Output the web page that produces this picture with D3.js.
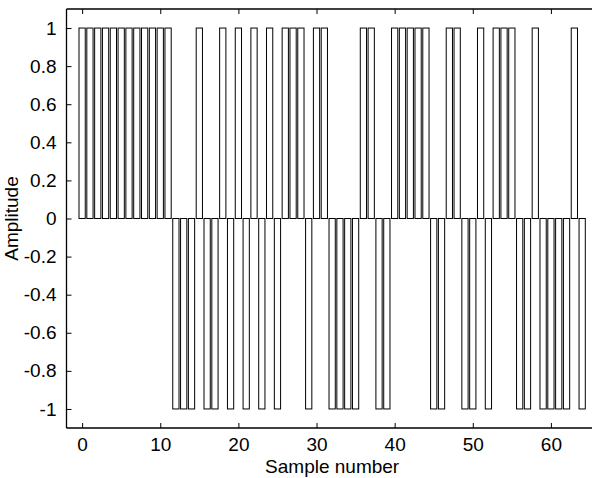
<!DOCTYPE html>
<html>
<head>
<meta charset="utf-8">
<script src="https://cdn.jsdelivr.net/npm/d3@7/dist/d3.min.js"></script>
<style>
  body { margin: 0; background: #fff; }
  text { font-family: "Liberation Sans", Arial, sans-serif; fill: #000; }
</style>
</head>
<body>
<svg id="chart" width="592" height="478"></svg>
<script>
// amplitude of each sample, sample number = position in the list (0..64)
const amplitudes = [
   1,  1,  1,  1,  1,  1,  1,  1,  1,  1,  1,  1,
  -1, -1, -1,  1, -1, -1,  1, -1,  1, -1,  1, -1,
   1, -1,  1,  1,  1, -1,  1,  1, -1, -1, -1, -1,
   1,  1, -1, -1,  1,  1,  1,  1,  1, -1, -1,  1,
   1, -1, -1,  1, -1,  1,  1,  1, -1, -1,  1, -1,
  -1, -1, -1,  1, -1
];
const xTicks = [0, 10, 20, 30, 40, 50, 60];
const yTicks = [-1, -0.8, -0.6, -0.4, -0.2, 0, 0.2, 0.4, 0.6, 0.8, 1];

const svg = d3.select("#chart");

// plot box (right edge runs off the picture, like the original)
const boxLeft = 66.5, boxTop = 9, boxRight = 597.8, boxBottom = 428;
const barWidth = 0.8;
const tickLen = 5;

const x = d3.scaleLinear().domain([-2, 66]).range([boxLeft, boxRight]);
const y = d3.scaleLinear().domain([-1.1, 1.1]).range([boxBottom, boxTop]);

//bars, white with black edge
svg.append("g")
  .selectAll("rect")
  .data(amplitudes)
  .join("rect")
    .attr("x", (d, i) => x(i - barWidth / 2))
    .attr("width", (d, i) => x(i + barWidth / 2) - x(i - barWidth / 2))
    .attr("y", d => y(Math.max(0, d)))
    .attr("height", d => Math.abs(y(d) - y(0)))
    .attr("fill", "#fff")
    .attr("stroke", "#000")
    .attr("stroke-width", 1);

// axes - ticks point inward
const xAxisBottom = d3.axisBottom(x).tickValues(xTicks).tickSize(-tickLen).tickPadding(10).tickFormat(d3.format("d"));
const xAxisTop = d3.axisTop(x).tickValues(xTicks).tickSize(-tickLen).tickFormat("");
const yAxisLeft = d3.axisLeft(y).tickValues(yTicks).tickSize(-tickLen).tickPadding(10)
  .tickFormat(d => String(+d.toFixed(1)));

function styleAxis(g) {
  g.select(".domain").remove();
  g.selectAll(".tick line").attr("stroke", "#000");
  g.selectAll("text").attr("font-size", 19).attr("font-family", "Liberation Sans, Arial, sans-serif");
}

svg.append("g").attr("transform", `translate(0,${boxBottom})`).call(xAxisBottom).call(styleAxis);
svg.append("g").attr("transform", `translate(0,${boxTop})`).call(xAxisTop).call(styleAxis);
svg.append("g").attr("transform", `translate(${boxLeft},0)`).call(yAxisLeft).call(styleAxis);

// frame
const frame = svg.append("g").attr("stroke", "#000").attr("stroke-width", 1.3);
frame.append("line").attr("x1", boxLeft).attr("x2", boxLeft).attr("y1", boxTop).attr("y2", boxBottom);
frame.append("line").attr("x1", boxLeft).attr("x2", boxRight).attr("y1", boxTop).attr("y2", boxTop);
frame.append("line").attr("x1", boxLeft).attr("x2", boxRight).attr("y1", boxBottom).attr("y2", boxBottom);
frame.append("line").attr("x1", boxRight).attr("x2", boxRight).attr("y1", boxTop).attr("y2", boxBottom);

// labels
svg.append("text")
  .attr("x", x(32))
  .attr("y", 473)
  .attr("text-anchor", "middle")
  .attr("font-size", 19)
  .text("Sample number");

svg.append("text")
  .attr("transform", `translate(18,${y(0)}) rotate(-90)`)
  .attr("text-anchor", "middle")
  .attr("font-size", 19)
  .text("Amplitude");
</script>
</body>
</html>
